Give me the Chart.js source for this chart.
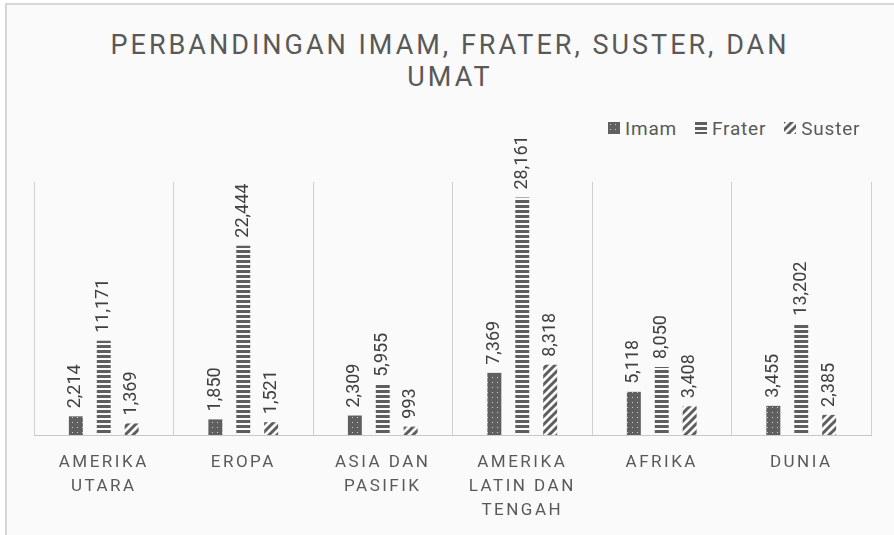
<!DOCTYPE html>
<html>
<head>
<meta charset="utf-8">
<script src="https://cdn.jsdelivr.net/npm/chart.js@4.4.1/dist/chart.umd.min.js"></script>
<style>
  body { margin: 0; background: #fff; overflow: hidden; }
  #frame {
    position: absolute; left: 5px; top: 3px; width: 900px; height: 540px;
    background: #fafafa; border-left: 2px solid #d6d6d6; border-top: 2px solid #d6d6d6;
  }
  #title {
    position: absolute; left: 5px; top: 29px; width: 890px;
    text-align: center; font: 27px Roboto; line-height: 32px;
    letter-spacing: 3px; color: #595959;
  }
  #legend {
    position: absolute; left: 608px; top: 117px; height: 22px;
    display: flex; align-items: center;
    font: 19px Roboto; letter-spacing: 0.8px; color: #595959;
  }
  #legend span { display: flex; align-items: center; margin-right: 18px; }
  #legend canvas { margin-right: 5px; }
  .wrap { position: absolute; left: 0; top: 0; width: 894px; height: 551px; }
</style>
</head>
<body>
<div id="frame"></div>
<div id="title">PERBANDINGAN IMAM, FRATER, SUSTER, DAN<br>UMAT</div>
<div id="legend"></div>
<div class="wrap"><canvas id="chart"></canvas></div>
<script>
const categories = [
  ['AMERIKA', 'UTARA'],
  ['EROPA'],
  ['ASIA DAN', 'PASIFIK'],
  ['AMERIKA', 'LATIN DAN', 'TENGAH'],
  ['AFRIKA'],
  ['DUNIA']
];
const seriesNames = ['Imam', 'Frater', 'Suster'];
const imam = [2214, 1850, 2309, 7369, 5118, 3455];
const frater = [11171, 22444, 5955, 28161, 8050, 13202];
const suster = [1369, 1521, 993, 8318, 3408, 2385];

// pola isi batang
function makePattern(kind) {
  const c = document.createElement('canvas');
  const g = c.getContext('2d');
  if (kind === 'dots') {
    c.width = 5; c.height = 5;
    g.fillStyle = '#5f5f5f';
    g.fillRect(0, 0, 5, 5);
    g.fillStyle = '#cfcfcf';
    g.fillRect(2, 2, 1, 1);
  } else if (kind === 'hlines') {
    c.width = 6; c.height = 5;
    g.fillStyle = '#5e5e5e';
    g.fillRect(0, 0, 6, 3);
  } else {
    c.width = 8; c.height = 8;
    g.strokeStyle = '#5e5e5e';
    g.lineWidth = 3;
    g.beginPath();
    g.moveTo(0, 8); g.lineTo(8, 0);
    g.moveTo(-4, 4); g.lineTo(4, -4);
    g.moveTo(4, 12); g.lineTo(12, 4);
    g.stroke();
  }
  return g.createPattern(c, 'repeat');
}

const patterns = [makePattern('dots'), makePattern('hlines'), makePattern('diag')];

// legenda
const legendEl = document.getElementById('legend');
seriesNames.forEach((name, i) => {
  const item = document.createElement('span');
  const icon = document.createElement('canvas');
  icon.width = 12; icon.height = 12;
  const g = icon.getContext('2d');
  g.fillStyle = patterns[i];
  g.fillRect(0, 0, 12, 12);
  item.appendChild(icon);
  item.appendChild(document.createTextNode(name));
  legendEl.appendChild(item);
});

// jarak huruf untuk label kategori
const tickSpacing = {
  id: 'tickSpacing',
  beforeDraw(chart) { chart.ctx.letterSpacing = '2.5px'; },
  beforeDatasetsDraw(chart) { chart.ctx.letterSpacing = '0px'; }
};

// label nilai (diputar)
const valueLabels = {
  id: 'valueLabels',
  afterDatasetsDraw(chart) {
    const ctx = chart.ctx;
    chart.data.datasets.forEach((ds, i) => {
      chart.getDatasetMeta(i).data.forEach((bar, j) => {
        ctx.save();
        ctx.translate(bar.x, bar.y - 8);
        ctx.rotate(-Math.PI / 2);
        ctx.font = '18px Roboto';
        ctx.fillStyle = '#404040';
        ctx.textAlign = 'left';
        ctx.textBaseline = 'middle';
        ctx.fillText(ds.data[j].toLocaleString('en-US'), 0, 0);
        ctx.restore();
      });
    });
  }
};

const seriesData = [imam, frater, suster];

new Chart(document.getElementById('chart'), {
  type: 'bar',
  data: {
    labels: categories,
    datasets: seriesNames.map((name, i) => ({
      label: name,
      data: seriesData[i],
      backgroundColor: patterns[i],
      borderWidth: 0,
      categoryPercentage: 0.6,
      barPercentage: 0.5
    }))
  },
  options: {
    responsive: true,
    maintainAspectRatio: false,
    animation: false,
    layout: { padding: { top: 182, left: 34, right: 23, bottom: 12 } },
    plugins: {
      legend: { display: false },
      tooltip: { enabled: false }
    },
    scales: {
      x: {
        grid: { color: '#d0d0d0', drawTicks: false, offset: true },
        border: { color: '#c8c8c8' },
        ticks: {
          color: '#595959',
          font: { family: 'Roboto', size: 17, lineHeight: '24px' },
          padding: 16,
          maxRotation: 0,
          autoSkip: false
        }
      },
      y: {
        display: false,
        min: 0,
        max: 30000
      }
    }
  },
  plugins: [tickSpacing, valueLabels]
});
</script>
</body>
</html>
